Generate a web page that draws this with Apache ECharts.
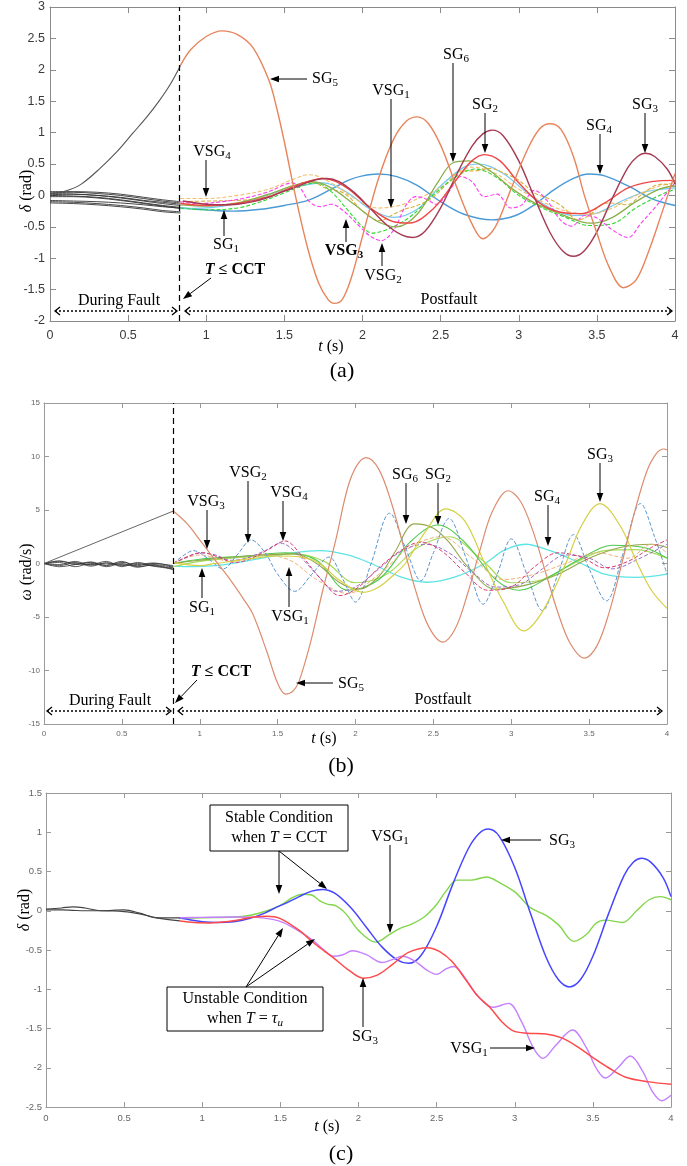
<!DOCTYPE html>
<html><head><meta charset="utf-8">
<script src="https://cdn.jsdelivr.net/npm/echarts@6/dist/echarts.min.js"></script>
<style>html,body{margin:0;padding:0;background:#fff}#c{width:687px;height:1166px}</style>
</head><body><div id="c"></div><script>
// ---------------- DATA ----------------
// common tick labels / ranges
const tTicks = [0, 0.5, 1, 1.5, 2, 2.5, 3, 3.5, 4];
const yRangeA = [-2, 3, 0.5];
const yRangeB = [-15, 15, 5];
const yRangeC = [-2.5, 1.5, 0.5];
const clearA = 0.835, clearB = 0.83;

// ===== Panel (a): rotor angle delta (rad) =====
const tA_pre = [0, 0.15, 0.3, 0.45, 0.6, 0.72, 0.835];
const aPre1 = [0.06, 0.06, 0.05, 0.02, -0.03, -0.07, -0.10];
const aPre2 = [0.04, 0.05, 0.03, 0.0, -0.05, -0.09, -0.12];
const aPre3 = [0.03, 0.02, 0.0, -0.03, -0.08, -0.11, -0.14];
const aPre4 = [0.01, 0.02, 0.0, -0.04, -0.09, -0.13, -0.16];
const aPre5 = [0.0, -0.01, -0.03, -0.07, -0.12, -0.16, -0.19];
const aPre6 = [-0.02, -0.02, -0.04, -0.08, -0.13, -0.17, -0.21];
const aPre7 = [-0.08, -0.09, -0.1, -0.12, -0.15, -0.18, -0.2];
const aPre8 = [-0.1, -0.11, -0.13, -0.16, -0.2, -0.24, -0.26];
const aPre9 = [-0.12, -0.13, -0.15, -0.18, -0.22, -0.26, -0.28];
const tA_SG5pre = [0, 0.1, 0.2, 0.32, 0.43, 0.53, 0.62, 0.7, 0.77, 0.835];
const vA_SG5pre = [0.03, 0.07, 0.18, 0.43, 0.7, 0.99, 1.25, 1.51, 1.77, 2.07];

const tA_SG5 = [0.835, 0.9, 1.0, 1.1, 1.2, 1.3, 1.4, 1.45, 1.5, 1.57, 1.65, 1.72, 1.78, 1.82, 1.87, 1.93, 2.0, 2.1, 2.2, 2.28, 2.35, 2.42, 2.5, 2.6, 2.7, 2.77, 2.85, 2.95, 3.05, 3.13, 3.2, 3.27, 3.35, 3.42, 3.5, 3.58, 3.67, 3.75, 3.83, 3.92, 4.0];
const vA_SG5 = [2.07, 2.32, 2.53, 2.62, 2.56, 2.35, 1.84, 1.4, 0.85, 0.0, -0.85, -1.4, -1.66, -1.72, -1.66, -1.3, -0.65, 0.25, 0.9, 1.18, 1.25, 1.15, 0.8, 0.15, -0.45, -0.69, -0.5, 0.1, 0.7, 1.05, 1.14, 1.05, 0.62, 0.0, -0.6, -1.15, -1.47, -1.35, -0.9, -0.25, 0.35];
const tA_SG4 = [0.835, 1.0, 1.17, 1.35, 1.5, 1.66, 1.8, 1.92, 2.0, 2.1, 2.22, 2.35, 2.5, 2.65, 2.83, 2.98, 3.1, 3.22, 3.35, 3.45, 3.55, 3.7, 3.85, 4.0];
const vA_SG4 = [-0.2, -0.23, -0.25, -0.22, -0.16, -0.07, 0.1, 0.25, 0.31, 0.34, 0.3, 0.16, -0.1, -0.3, -0.39, -0.32, -0.15, 0.08, 0.27, 0.34, 0.31, 0.15, -0.05, -0.16];
const tA_SG2 = [0.835, 1.0, 1.2, 1.4, 1.6, 1.75, 1.9, 2.05, 2.2, 2.3, 2.45, 2.6, 2.7, 2.78, 2.88, 3.0, 3.15, 3.3, 3.4, 3.55, 3.7, 3.85, 4.0];
const vA_SG2 = [-0.13, -0.16, -0.13, -0.02, 0.18, 0.27, 0.12, -0.2, -0.42, -0.44, -0.22, 0.25, 0.55, 0.65, 0.55, 0.2, -0.15, -0.28, -0.29, -0.12, 0.12, 0.22, 0.24];
const tA_SG6 = [0.835, 1.0, 1.2, 1.4, 1.55, 1.68, 1.8, 1.95, 2.1, 2.22, 2.35, 2.48, 2.58, 2.68, 2.8, 2.95, 3.1, 3.25, 3.4, 3.48, 3.6, 3.75, 3.9, 4.0];
const vA_SG6 = [-0.15, -0.17, -0.12, 0.02, 0.15, 0.22, 0.12, -0.15, -0.42, -0.5, -0.3, 0.2, 0.52, 0.55, 0.42, 0.12, -0.12, -0.28, -0.42, -0.44, -0.35, -0.1, 0.1, 0.15];
const tA_SG1 = [0.835, 1.0, 1.15, 1.3, 1.45, 1.6, 1.75, 1.9, 2.05, 2.2, 2.35, 2.5, 2.65, 2.75, 2.9, 3.05, 3.2, 3.35, 3.5, 3.65, 3.8, 3.92, 4.0];
const vA_SG1 = [-0.21, -0.2, -0.15, -0.07, 0.05, 0.15, 0.2, 0.05, -0.22, -0.35, -0.22, 0.15, 0.45, 0.5, 0.35, 0.05, -0.2, -0.32, -0.28, -0.1, 0.05, 0.1, 0.12];
const tA_VSG2 = [0.835, 0.95, 1.1, 1.25, 1.4, 1.5, 1.55, 1.6, 1.66, 1.73, 1.8, 1.88, 1.98, 2.05, 2.12, 2.2, 2.28, 2.34, 2.41, 2.47, 2.55, 2.63, 2.7, 2.78, 2.86, 2.95, 3.02, 3.1, 3.18, 3.27, 3.34, 3.42, 3.5, 3.6, 3.7, 3.78, 3.88, 3.95, 4.0];
const vA_VSG2 = [-0.1, -0.13, -0.1, -0.04, 0.06, 0.17, 0.2, 0.12, -0.1, -0.18, -0.14, -0.25, -0.49, -0.65, -0.72, -0.55, -0.15, -0.02, -0.06, -0.14, 0.05, 0.3, 0.22, -0.02, 0.02, -0.2, -0.15, 0.08, -0.08, -0.4, -0.49, -0.32, -0.36, -0.55, -0.67, -0.45, -0.17, 0.05, 0.2];
const tA_VSG3 = [0.835, 1.0, 1.2, 1.35, 1.5, 1.6, 1.7, 1.8, 1.9, 2.0, 2.06, 2.15, 2.3, 2.45, 2.6, 2.72, 2.85, 3.0, 3.15, 3.3, 3.45, 3.6, 3.75, 3.9, 4.0];
const vA_VSG3 = [-0.2, -0.23, -0.2, -0.1, 0.04, 0.14, 0.2, 0.06, -0.22, -0.5, -0.6, -0.55, -0.35, 0.0, 0.3, 0.42, 0.3, 0.0, -0.2, -0.35, -0.48, -0.45, -0.2, 0.0, 0.1];
const tA_VSG4 = [0.835, 1.0, 1.2, 1.4, 1.55, 1.66, 1.8, 1.95, 2.1, 2.25, 2.4, 2.55, 2.7, 2.85, 3.0, 3.15, 3.3, 3.45, 3.6, 3.75, 3.9, 4.0];
const vA_VSG4 = [-0.05, -0.05, 0.0, 0.1, 0.25, 0.33, 0.2, -0.05, -0.2, -0.15, 0.0, 0.2, 0.45, 0.35, 0.1, -0.1, -0.25, -0.3, -0.2, 0.0, 0.15, 0.2];

// ===== Panel (c) (also SG3 / VSG1 in (a) at T = CCT) =====
const tC_pre = [0, 0.1, 0.17, 0.25, 0.35, 0.5, 0.6, 0.71, 0.857];
const cPre1 = [0.02, 0.035, 0.05, 0.035, 0.0, 0.01, -0.03, -0.09, -0.09];
const cPre2 = [0.01, 0.01, 0.005, 0.0, 0.0, -0.01, -0.04, -0.09, -0.13];
const t_SG3stable = [0.85, 1.0, 1.1, 1.2, 1.3, 1.4, 1.47, 1.55, 1.62, 1.7, 1.77, 1.85, 1.95, 2.05, 2.15, 2.25, 2.32, 2.4, 2.5, 2.6, 2.7, 2.77, 2.83, 2.9, 3.0, 3.1, 3.2, 3.28, 3.35, 3.42, 3.5, 3.6, 3.7, 3.76, 3.81, 3.87, 3.95, 4.0];
const v_SG3stable = [-0.09, -0.14, -0.15, -0.14, -0.1, -0.03, 0.04, 0.11, 0.18, 0.25, 0.27, 0.22, 0.04, -0.21, -0.46, -0.63, -0.67, -0.57, -0.2, 0.32, 0.78, 0.98, 1.04, 0.95, 0.55, -0.03, -0.59, -0.88, -0.97, -0.88, -0.58, -0.04, 0.45, 0.62, 0.67, 0.62, 0.42, 0.18];
const t_VSG1stable = [0.85, 1.0, 1.2, 1.3, 1.4, 1.5, 1.58, 1.64, 1.7, 1.75, 1.8, 1.86, 1.92, 2.0, 2.11, 2.2, 2.27, 2.34, 2.42, 2.5, 2.56, 2.63, 2.72, 2.82, 2.9, 3.0, 3.1, 3.2, 3.28, 3.38, 3.46, 3.52, 3.58, 3.69, 3.78, 3.86, 3.93, 4.0];
const v_VSG1stable = [-0.1, -0.09, -0.08, -0.06, -0.01, 0.07, 0.17, 0.21, 0.2, 0.13, 0.085, 0.06, -0.04, -0.25, -0.4, -0.3, -0.22, -0.17, -0.08, 0.08, 0.25, 0.39, 0.39, 0.43, 0.36, 0.24, 0.04, -0.06, -0.18, -0.39, -0.3, -0.16, -0.12, -0.15, 0.0, 0.14, 0.18, 0.14];
const t_SG3unstable = [0.857, 0.95, 1.05, 1.15, 1.25, 1.33, 1.41, 1.5, 1.62, 1.72, 1.84, 1.94, 2.03, 2.12, 2.22, 2.32, 2.44, 2.52, 2.6, 2.69, 2.76, 2.84, 2.92, 2.99, 3.08, 3.2, 3.3, 3.4, 3.5, 3.6, 3.71, 3.86, 4.0];
const v_SG3unstable = [-0.13, -0.15, -0.155, -0.14, -0.11, -0.08, -0.07, -0.1, -0.25, -0.42, -0.6, -0.76, -0.86, -0.82, -0.68, -0.53, -0.47, -0.52, -0.65, -0.89, -1.08, -1.23, -1.42, -1.53, -1.56, -1.57, -1.62, -1.73, -1.87, -2.0, -2.12, -2.18, -2.21];
const t_VSG1unstable = [0.857, 1.0, 1.2, 1.35, 1.45, 1.52, 1.62, 1.71, 1.78, 1.84, 1.9, 1.96, 2.05, 2.15, 2.22, 2.28, 2.36, 2.44, 2.5, 2.56, 2.61, 2.68, 2.76, 2.86, 2.96, 3.04, 3.12, 3.18, 3.26, 3.37, 3.46, 3.52, 3.58, 3.66, 3.74, 3.82, 3.88, 3.94, 4.0];
const v_VSG1unstable = [-0.09, -0.085, -0.08, -0.085, -0.11, -0.15, -0.26, -0.38, -0.5, -0.58, -0.56, -0.51, -0.56, -0.66, -0.62, -0.58, -0.64, -0.76, -0.81, -0.74, -0.71, -0.85, -1.08, -1.23, -1.18, -1.4, -1.75, -1.88, -1.72, -1.52, -1.75, -2.0, -2.13, -2.0, -1.85, -2.05, -2.3, -2.42, -2.35];

// ===== Panel (b): speed deviation omega (rad/s) =====
const tB_pre = [0, 0.1, 0.2, 0.3, 0.4, 0.5, 0.6, 0.7, 0.83];
const bPre1 = [0, 0.25, -0.1, 0.15, -0.2, 0.1, -0.1, 0.05, -0.3];
const bPre2 = [0, -0.2, 0.1, -0.25, 0.05, -0.2, 0.0, -0.25, -0.5];
const bPre3 = [0, 0.1, -0.3, 0.0, -0.15, 0.2, -0.3, -0.15, -0.6];
const bPre4 = [0, -0.1, 0.2, -0.15, 0.05, -0.1, -0.2, 0.0, -0.2];
const bPre5 = [0, 0.2, 0.0, -0.1, 0.2, -0.3, 0.1, -0.2, -0.4];
const bPre6 = [0, -0.3, -0.1, 0.1, -0.3, 0.0, -0.35, -0.1, -0.35];
const tB_SG5pre = [0, 0.83];
const vB_SG5pre = [0, 4.9];
const tB_SG5 = [0.83, 0.92, 1.0, 1.1, 1.2, 1.28, 1.34, 1.43, 1.5, 1.55, 1.6, 1.64, 1.71, 1.79, 1.87, 1.95, 2.01, 2.07, 2.15, 2.23, 2.31, 2.39, 2.47, 2.56, 2.64, 2.72, 2.8, 2.88, 2.98, 3.06, 3.14, 3.22, 3.3, 3.38, 3.47, 3.55, 3.63, 3.71, 3.79, 3.87, 3.93, 3.98, 4.0];
const vB_SG5 = [4.9, 3.7, 2.2, 0.3, -1.6, -3.3, -4.7, -8.2, -11.2, -12.2, -11.9, -10.9, -7.45, -2.5, 2.0, 7.1, 9.2, 9.9, 8.8, 5.7, 1.5, -2.7, -5.9, -7.35, -6.1, -2.8, 1.3, 4.9, 6.8, 5.8, 3.0, -0.8, -4.6, -7.5, -8.85, -7.7, -4.5, 0.0, 4.7, 8.6, 10.25, 10.7, 10.6];
const tB_SG3 = [0.83, 1.0, 1.1, 1.3, 1.5, 1.65, 1.77, 1.9, 2.05, 2.15, 2.25, 2.32, 2.45, 2.58, 2.7, 2.83, 2.95, 3.08, 3.2, 3.35, 3.45, 3.57, 3.7, 3.81, 3.9, 4.0];
const vB_SG3 = [0.1, -0.2, 0.0, 0.4, 0.7, 0.6, 0.0, -1.6, -2.7, -2.2, -1.0, 0.0, 3.0, 5.1, 4.0, 0.0, -3.6, -6.3, -4.5, 0.0, 3.5, 5.6, 3.5, 0.0, -2.5, -4.2];
const tB_SG4 = [0.83, 0.95, 1.1, 1.25, 1.4, 1.6, 1.77, 1.95, 2.1, 2.3, 2.46, 2.65, 2.83, 2.95, 3.09, 3.25, 3.45, 3.6, 3.8, 4.0];
const vB_SG4 = [-0.25, -0.3, -0.2, 0.1, 0.5, 1.0, 1.2, 0.8, 0.0, -1.3, -1.75, -1.2, 0.0, 1.2, 1.8, 1.2, 0.0, -1.0, -1.3, -1.0];
const tB_VSG2 = [0.83, 0.9, 0.96, 1.05, 1.15, 1.24, 1.33, 1.42, 1.5, 1.61, 1.72, 1.83, 1.92, 2.0, 2.1, 2.22, 2.32, 2.42, 2.5, 2.6, 2.71, 2.82, 2.91, 3.0, 3.1, 3.2, 3.3, 3.4, 3.5, 3.61, 3.72, 3.83, 3.92, 4.0];
const vB_VSG2 = [0.0, 0.8, 1.2, 0.5, -0.5, 0.8, 2.2, 1.0, -1.0, -2.6, -1.0, 0.6, -1.5, -3.6, 0.0, 4.7, 1.5, -1.6, 1.0, 4.2, 0.5, -3.8, -1.0, 2.3, -1.0, -4.4, -1.0, 2.7, -0.5, -3.5, 1.0, 5.6, 2.5, -1.0];
const tB_VSG4 = [0.83, 0.93, 1.02, 1.12, 1.22, 1.32, 1.44, 1.55, 1.65, 1.78, 1.9, 2.02, 2.15, 2.3, 2.42, 2.55, 2.7, 2.85, 3.0, 3.15, 3.3, 3.45, 3.6, 3.75, 3.9, 4.0];
const vB_VSG4 = [0.0, 0.7, 1.0, 0.6, 0.1, 0.4, 1.3, 2.1, 0.8, -1.5, -3.0, -2.2, -0.4, 1.3, 2.0, 1.2, -0.8, -2.5, -2.2, -0.3, 1.0, 0.6, -0.4, 0.2, 1.5, 2.2];
const tB_VSG3 = [0.83, 0.92, 1.0, 1.1, 1.2, 1.3, 1.42, 1.52, 1.62, 1.75, 1.88, 2.0, 2.15, 2.3, 2.45, 2.6, 2.75, 2.9, 3.05, 3.2, 3.35, 3.5, 3.65, 3.8, 4.0];
const vB_VSG3 = [0.0, 0.6, 1.0, 0.8, 0.3, 0.5, 1.2, 1.9, 1.0, -1.0, -2.6, -2.2, -0.5, 1.2, 1.8, 1.0, -0.8, -2.2, -2.0, -0.5, 0.8, 0.5, -0.5, 0.3, 1.8];
const tB_SG6 = [0.83, 1.0, 1.3, 1.6, 1.75, 1.9, 2.02, 2.15, 2.25, 2.38, 2.5, 2.6, 2.72, 2.9, 3.1, 3.3, 3.5, 3.7, 3.9, 4.0];
const vB_SG6 = [0.0, 0.3, 0.7, 0.9, 0.0, -1.8, -2.4, -1.2, 1.0, 3.7, 3.3, 2.0, -0.3, -2.4, -2.0, -1.0, 0.5, 1.5, 1.8, 1.5];
const tB_SG2 = [0.83, 1.0, 1.3, 1.55, 1.75, 1.95, 2.15, 2.35, 2.53, 2.7, 2.9, 3.05, 3.25, 3.45, 3.65, 3.85, 4.0];
const vB_SG2 = [0.0, 0.4, 0.7, 1.0, 0.3, -2.5, -1.5, 2.0, 3.6, 2.0, -1.5, -2.5, -1.2, 0.5, 1.7, 1.5, 0.5];
const tB_SG1 = [0.83, 1.0, 1.2, 1.4, 1.6, 1.8, 2.0, 2.2, 2.4, 2.6, 2.8, 3.0, 3.2, 3.4, 3.6, 3.8, 4.0];
const vB_SG1 = [-0.3, 0.2, 0.5, 0.7, 0.9, 0.2, -1.8, -1.0, 1.5, 2.5, 0.5, -1.8, -1.5, 0.0, 1.2, 1.3, 0.5];
const tB_VSG1 = [0.83, 1.0, 1.2, 1.4, 1.58, 1.75, 1.95, 2.15, 2.35, 2.55, 2.75, 2.95, 3.15, 3.35, 3.55, 3.75, 3.9, 4.0];
const vB_VSG1 = [0.0, 0.8, 0.2, 0.8, 0.3, -1.5, -2.8, -1.0, 1.5, 2.5, 0.5, -1.5, -1.0, 0.0, 1.0, 0.5, 1.8, 1.0];

// ---------------- CHART ----------------
const SANS = '"Liberation Sans", Arial, Helvetica, sans-serif';
const SERIF = '"Liberation Serif", "Times New Roman", serif';
const chart = echarts.init(document.getElementById('c'), null, {renderer: 'canvas'});

const gridsPx = [
  {left: 50, top: 7, width: 625, height: 314},
  {left: 44, top: 403, width: 623, height: 321},
  {left: 46, top: 793, width: 625, height: 314}
];
const axStyle = [
  {axis: '#8a8a8a', col: '#3a3a3a', fs: 12.5, xm: 8, ym: 5, tick: 6},
  {axis: '#9a9a9a', col: '#666', fs: 8, xm: 6, ym: 4, tick: 5},
  {axis: '#9a9a9a', col: '#666', fs: 9.5, xm: 6, ym: 4, tick: 5}
];
const yRanges = [yRangeA, yRangeB, yRangeC];
const xAxes = [], yAxes = [];
gridsPx.forEach((g, gi) => {
  const s = axStyle[gi];
  const base = {gridIndex: gi, type: 'value', splitLine: {show: false},
    axisLine: {show: true, onZero: false, lineStyle: {color: s.axis, width: 1}},
    axisTick: {show: true, inside: true, length: s.tick, lineStyle: {color: s.axis}}};
  ['bottom', 'top'].forEach(p => xAxes.push(Object.assign({}, base, {
    position: p, min: tTicks[0], max: tTicks[tTicks.length - 1], interval: tTicks[1] - tTicks[0],
    axisLabel: {show: p === 'bottom', margin: s.xm, fontFamily: SANS, fontSize: s.fs, color: s.col}
  })));
  const r = yRanges[gi];
  ['left', 'right'].forEach(p => yAxes.push(Object.assign({}, base, {
    position: p, min: r[0], max: r[1], interval: r[2],
    axisLabel: {show: p === 'left', margin: s.ym, fontFamily: SANS, fontSize: s.fs, color: s.col}
  })));
});

function zip(t, v) { return t.map((x, i) => [x, v[i]]); }
function line(gi, t, v, color, width, dash, extra) {
  return Object.assign({
    type: 'line', xAxisIndex: gi * 2, yAxisIndex: gi * 2, data: zip(t, v),
    showSymbol: false, symbol: 'none', smooth: 0.35, silent: true, animation: false,
    lineStyle: {color: color, width: width, type: dash ? [4, 2] : 'solid'}
  }, extra || {});
}
function vline(x) {
  return {silent: true, symbol: ['none', 'none'], label: {show: false},
    lineStyle: {color: '#000', type: [6, 4], width: 1.2}, data: [{xAxis: x}]};
}
const series = [];
// (a)
[aPre1, aPre2, aPre3, aPre4, aPre5, aPre6, aPre7, aPre8, aPre9].forEach(v => series.push(line(0, tA_pre, v, '#333', 0.9)));
series.push(line(0, tA_SG5pre, vA_SG5pre, '#555', 1.1, false, {markLine: vline(clearA)}));
series.push(line(0, tA_SG4, vA_SG4, '#4a9ad6', 1.4));
series.push(line(0, tA_SG1, vA_SG1, '#74c9f0', 1.2));
series.push(line(0, tA_VSG4, vA_VSG4, '#f0c070', 1.1, true));
series.push(line(0, t_VSG1stable, v_VSG1stable, '#d8b03c', 1.1, true));
series.push(line(0, tA_VSG3, vA_VSG3, '#2fd82f', 1.1, true));
series.push(line(0, tA_VSG2, vA_VSG2, '#ff3cf0', 1.1, true));
series.push(line(0, tA_SG6, vA_SG6, '#8caf4c', 1.3));
series.push(line(0, tA_SG2, vA_SG2, '#f04646', 1.4));
series.push(line(0, t_SG3stable, v_SG3stable, '#a53a52', 1.4));
series.push(line(0, tA_SG5, vA_SG5, '#e8845c', 1.4));
// (b)
[bPre1, bPre2, bPre3, bPre4, bPre5, bPre6].forEach(v => series.push(line(1, tB_pre, v, '#333', 0.8)));
series.push(line(1, tB_SG5pre, vB_SG5pre, '#666', 1, false, {smooth: false, markLine: vline(clearB)}));
series.push(line(1, tB_SG4, vB_SG4, '#5ee4e4', 1.3));
series.push(line(1, tB_SG1, vB_SG1, '#a6dc58', 1.2));
series.push(line(1, tB_SG2, vB_SG2, '#4cc84c', 1.1));
series.push(line(1, tB_SG6, vB_SG6, '#93a84a', 1.1));
series.push(line(1, tB_VSG1, vB_VSG1, '#f0b27a', 1, true));
series.push(line(1, tB_VSG3, vB_VSG3, '#9a6cc4', 1, true));
series.push(line(1, tB_VSG4, vB_VSG4, '#dc3a6e', 1, true));
series.push(line(1, tB_VSG2, vB_VSG2, '#5b95cf', 1, true));
series.push(line(1, tB_SG3, vB_SG3, '#d4d044', 1.2));
series.push(line(1, tB_SG5, vB_SG5, '#dc8c6e', 1.2));
// (c)
[cPre1, cPre2].forEach(v => series.push(line(2, tC_pre, v, '#444', 1.2)));
series.push(line(2, t_VSG1stable, v_VSG1stable, '#82d64a', 1.4));
series.push(line(2, t_SG3stable, v_SG3stable, '#4646ff', 1.5));
series.push(line(2, t_VSG1unstable, v_VSG1unstable, '#c480ff', 1.4));
series.push(line(2, t_SG3unstable, v_SG3unstable, '#ff4a4a', 1.5));

// ---------------- ANNOTATIONS ----------------
const G = [];
const rich = {
  m: {fontFamily: SERIF, fontSize: 16, lineHeight: 20, fill: '#000'},
  mi: {fontFamily: SERIF, fontSize: 16, lineHeight: 20, fontStyle: 'italic', fill: '#000'},
  b: {fontFamily: SERIF, fontSize: 16, lineHeight: 20, fontWeight: 'bold', fill: '#000'},
  bi: {fontFamily: SERIF, fontSize: 16, lineHeight: 20, fontWeight: 'bold', fontStyle: 'italic', fill: '#000'},
  s: {fontFamily: SERIF, fontSize: 11, lineHeight: 12, verticalAlign: 'bottom', fill: '#000'},
  sb: {fontFamily: SERIF, fontSize: 11, lineHeight: 12, verticalAlign: 'bottom', fontWeight: 'bold', fill: '#000'},
  si: {fontFamily: SERIF, fontSize: 11, lineHeight: 12, verticalAlign: 'bottom', fontStyle: 'italic', fill: '#000'},
  big: {fontFamily: SERIF, fontSize: 22, lineHeight: 26, fill: '#000'}
};
function txt(x, y, text, extra) {
  G.push(Object.assign({type: 'text', x: x, y: y, z: 100,
    style: {text: text, rich: rich, align: 'center', verticalAlign: 'middle', fill: '#000', fontFamily: SERIF, fontSize: 16}}, extra || {}));
}
function lab(x, y, main, sub, bold) {
  txt(x, y, bold ? `{b|${main}}{sb|${sub}}` : `{m|${main}}{s|${sub}}`);
}
function arrow(x1, y1, x2, y2) {
  const a = Math.atan2(y2 - y1, x2 - x1), L = 9, W = 3.3;
  const bx = x2 - L * Math.cos(a), by = y2 - L * Math.sin(a);
  const px = -Math.sin(a) * W, py = Math.cos(a) * W;
  G.push({type: 'line', z: 100, shape: {x1: x1, y1: y1, x2: bx, y2: by}, style: {stroke: '#000', lineWidth: 1}});
  G.push({type: 'polygon', z: 100, shape: {points: [[x2, y2], [bx + px, by + py], [bx - px, by - py]]}, style: {fill: '#000'}});
}
function dotted(x1, x2, y, leftHead) {
  G.push({type: 'line', z: 100, shape: {x1: x1, y1: y, x2: x2, y2: y}, style: {stroke: '#000', lineWidth: 1.3, lineDash: [2, 2]}});
  if (leftHead !== false) G.push({type: 'polyline', z: 100, shape: {points: [[x1 + 5, y - 4], [x1, y], [x1 + 5, y + 4]]}, style: {stroke: '#000', lineWidth: 1.3, fill: null}});
  G.push({type: 'polyline', z: 100, shape: {points: [[x2 - 5, y - 4], [x2, y], [x2 - 5, y + 4]]}, style: {stroke: '#000', lineWidth: 1.3, fill: null}});
}
function box(x, y, w, h) {
  G.push({type: 'rect', z: 99, shape: {x: x, y: y, width: w, height: h}, style: {fill: '#fff', stroke: '#000', lineWidth: 1}});
}

// panel (a)
lab(325, 79, 'SG', '5'); arrow(307, 79, 270, 79);
lab(212, 152, 'VSG', '4'); arrow(206, 160, 206, 197);
lab(226, 245, 'SG', '1'); arrow(224, 236, 224, 210);
txt(235, 270, '{bi|T}{b| ≤ CCT}'); arrow(211, 278, 183, 299);
txt(119, 301, '{m|During Fault}'); dotted(55, 177, 311);
txt(449, 300, '{m|Postfault}'); dotted(185, 672, 311);
lab(344, 251, 'VSG', '3', true); arrow(346, 242, 346, 219);
lab(383, 276, 'VSG', '2'); arrow(382, 266, 382, 243);
lab(391, 91, 'VSG', '1'); arrow(391, 99, 391, 208);
lab(456, 55, 'SG', '6'); arrow(453, 63, 453, 162);
lab(485, 105, 'SG', '2'); arrow(485, 113, 485, 153);
lab(599, 126, 'SG', '4'); arrow(600, 134, 600, 174);
lab(645, 105, 'SG', '3'); arrow(645, 113, 645, 153);
txt(27, 191, '{mi|δ}{m| (rad)}', {rotation: Math.PI / 2});
txt(331, 347, '{mi|t}{m| (s)}');
txt(342, 371, '{big|(a)}');

// panel (b)
lab(206, 502, 'VSG', '3'); arrow(207, 510, 207, 549);
lab(248, 473, 'VSG', '2'); arrow(248, 481, 248, 543);
lab(289, 493, 'VSG', '4'); arrow(283, 501, 283, 541);
lab(202, 608, 'SG', '1'); arrow(202, 598, 202, 568);
lab(290, 617, 'VSG', '1'); arrow(289, 607, 289, 567);
lab(351, 684, 'SG', '5'); arrow(333, 683, 296, 683);
txt(221, 672, '{bi|T}{b| ≤ CCT}'); arrow(197, 680, 175, 703);
txt(110, 701, '{m|During Fault}'); dotted(47, 171, 711);
txt(443, 700, '{m|Postfault}'); dotted(178, 662, 711);
lab(405, 475, 'SG', '6'); arrow(406, 483, 406, 524);
lab(438, 475, 'SG', '2'); arrow(438, 483, 438, 525);
lab(547, 497, 'SG', '4'); arrow(548, 505, 548, 546);
lab(600, 455, 'SG', '3'); arrow(600, 463, 600, 502);
txt(27, 572, '{mi|ω}{m| (rad/s)}', {rotation: Math.PI / 2});
txt(324, 739, '{mi|t}{m| (s)}');
txt(341, 766, '{big|(b)}');

// panel (c)
box(210, 805, 138, 46);
txt(279, 818, '{m|Stable Condition}');
txt(279, 838, '{m|when }{mi|T}{m| = CCT}');
arrow(279, 851, 279, 894); arrow(279, 851, 327, 889);
box(167, 987, 156, 44);
txt(245, 999, '{m|Unstable Condition}');
txt(245, 1019, '{m|when }{mi|T}{m| = }{mi|τ}{si|u}');
arrow(246, 987, 283, 928); arrow(246, 987, 315, 939);
lab(390, 837, 'VSG', '1'); arrow(390, 845, 390, 933);
lab(562, 841, 'SG', '3'); arrow(541, 840, 501, 840);
lab(365, 1037, 'SG', '3'); arrow(363, 1027, 363, 978);
lab(469, 1049, 'VSG', '1'); arrow(490, 1048, 535, 1048);
txt(25, 910, '{mi|δ}{m| (rad)}', {rotation: Math.PI / 2});
txt(327, 1127, '{mi|t}{m| (s)}');
txt(341, 1154, '{big|(c)}');

chart.setOption({
  backgroundColor: '#fff',
  animation: false,
  grid: gridsPx.map(g => Object.assign({containLabel: false}, g)),
  xAxis: xAxes,
  yAxis: yAxes,
  series: series,
  graphic: {elements: G}
});
</script></body></html>
